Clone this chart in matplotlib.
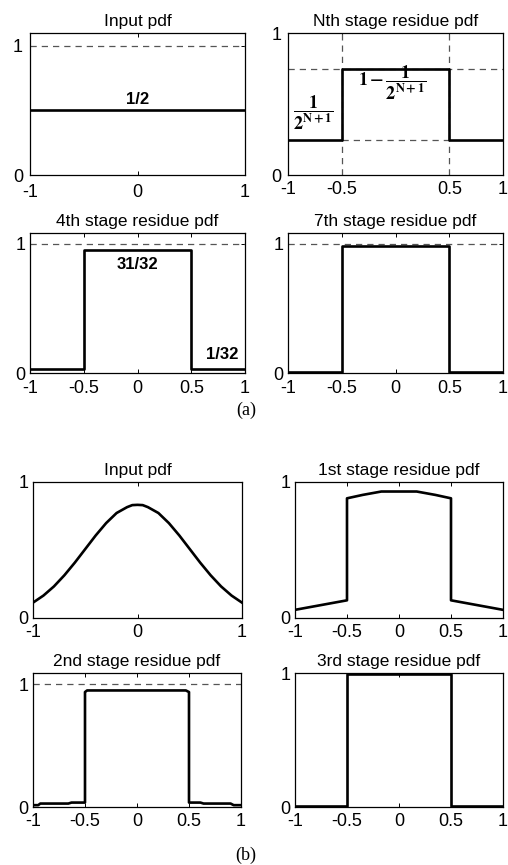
import matplotlib
matplotlib.use("Agg")
import matplotlib.pyplot as plt

plt.rcParams['font.family'] = ['Liberation Sans', 'DejaVu Sans']
plt.rcParams['mathtext.fontset'] = 'stix'
plt.rcParams['axes.unicode_minus'] = False

# (a) uniform input
step_x = [-1, -0.5, -0.5, 0.5, 0.5, 1]
a_input_x = [-1, 1]
a_input_y = [0.5, 0.5]
nth_y = [0.25, 0.25, 0.75, 0.75, 0.25, 0.25]
s4_y = [0.03, 0.03, 0.955, 0.955, 0.03, 0.03]
s7_y = [0.005, 0.005, 0.985, 0.985, 0.005, 0.005]

# (b) gaussian input
gauss_x = [-1, -0.9, -0.8, -0.7, -0.6, -0.5, -0.4, -0.3, -0.2, -0.1, -0.05, 0, 0.05,
           0.1, 0.2, 0.3, 0.4, 0.5, 0.6, 0.7, 0.8, 0.9, 1]
gauss_y = [0.113, 0.165, 0.232, 0.314, 0.407, 0.507, 0.607, 0.698, 0.772, 0.815, 0.83, 0.832, 0.83,
           0.815, 0.772, 0.698, 0.607, 0.507, 0.407, 0.314, 0.232, 0.165, 0.113]
s1_x = [-1, -0.75, -0.5, -0.5, -0.35, -0.17, 0.17, 0.35, 0.5, 0.5, 0.75, 1]
s1_y = [0.06, 0.095, 0.13, 0.88, 0.905, 0.93, 0.93, 0.905, 0.88, 0.13, 0.095, 0.06]
s2_x = [-1, -0.95, -0.93, -0.66, -0.63, -0.5, -0.5, -0.48, 0.47, 0.5, 0.5,
        0.61, 0.64, 0.9, 0.93, 1]
s2_y = [0.015, 0.015, 0.028, 0.028, 0.036, 0.036, 0.935, 0.948, 0.948, 0.935, 0.036,
        0.036, 0.028, 0.028, 0.015, 0.015]
s3_y = [0.008, 0.008, 0.992, 0.992, 0.008, 0.008]

W, H = 508, 865
fig = plt.figure(figsize=(W / 100, H / 100), dpi=100)

def make_axes(l, r, t, b, title, xticks, ytop, xpad=3.5, ypad=3):
    ax = fig.add_axes([l / W, 1 - b / H, (r - l) / W, (b - t) / H])
    ax.set_xlim(-1, 1)
    ax.set_ylim(0, ytop)
    ax.set_xticks(xticks)
    ax.set_xticklabels([('%g' % v) for v in xticks])
    ax.set_yticks([0, 1])
    ax.tick_params(direction='in', length=3, width=0.7, labelsize=13,
                   top=True, right=True)
    ax.tick_params(axis='x', pad=xpad)
    ax.tick_params(axis='y', pad=ypad)
    for s in ax.spines.values():
        s.set_linewidth(0.9)
    ax.set_title(title, fontsize=12.5, pad=5)
    return ax

dash = dict(color='#555555', lw=0.9, linestyle=(0, (5, 4)))
solid = dict(color='black', lw=1.9)
x5 = [-1, -0.5, 0, 0.5, 1]

# (a)
ax = make_axes(30, 245, 33, 175, 'Input pdf', [-1, 0, 1], 1.1, xpad=6.5, ypad=5)
ax.axhline(1, **dash)
ax.plot(a_input_x, a_input_y, **solid)
ax.text(0, 0.53, '1/2', ha='center', va='bottom', fontsize=12, fontweight='bold')

ax = make_axes(288, 503, 33, 175, 'Nth stage residue pdf', [-1, -0.5, 0.5, 1], 1.0,
               xpad=4.5, ypad=4.5)
ax.axhline(0.75, **dash)
ax.plot([-0.5, 0.5], [0.25, 0.25], **dash)
ax.axvline(-0.5, **dash)
ax.axvline(0.5, **dash)
ax.plot(step_x, nth_y, **solid)
ax.text(-0.76, 0.44, r'$\mathbf{\dfrac{1}{2^{N+1}}}$', ha='center', va='center', fontsize=13)
ax.text(-0.03, 0.65, r'$\mathbf{1-\dfrac{1}{2^{N+1}}}$', ha='center', va='center', fontsize=13)

ax = make_axes(30, 245, 233, 373, '4th stage residue pdf', x5, 1.085, xpad=5)
ax.axhline(1, **dash)
ax.plot(step_x, s4_y, **solid)
ax.text(0, 0.84, '31/32', ha='center', va='center', fontsize=12, fontweight='bold')
ax.text(0.79, 0.14, '1/32', ha='center', va='center', fontsize=12, fontweight='bold')

ax = make_axes(288, 503, 233, 373, '7th stage residue pdf', x5, 1.085, xpad=5)
ax.axhline(1, **dash)
ax.plot(step_x, s7_y, **solid)

fig.text(246 / W, 1 - 410 / H, '(a)', ha='center', va='center', fontsize=13,
         family='Liberation Serif')

# (b)
ax = make_axes(33, 242, 482, 618, 'Input pdf', [-1, 0, 1], 1.0, xpad=4.5)
ax.plot(gauss_x, gauss_y, **solid)

ax = make_axes(295, 503, 482, 618, '1st stage residue pdf', x5, 1.0, xpad=4.5)
ax.plot(s1_x, s1_y, **solid)

ax = make_axes(33, 241, 673, 807, '2nd stage residue pdf', x5, 1.09, xpad=4.5)
ax.axhline(1, **dash)
ax.plot(s2_x, s2_y, **solid)

ax = make_axes(295, 503, 673, 807, '3rd stage residue pdf', x5, 1.0, xpad=4.5)
ax.plot(step_x, s3_y, **solid)

fig.text(246 / W, 1 - 855 / H, '(b)', ha='center', va='center', fontsize=13,
         family='Liberation Serif')

fig.savefig('out.png', dpi=100, facecolor='white')
